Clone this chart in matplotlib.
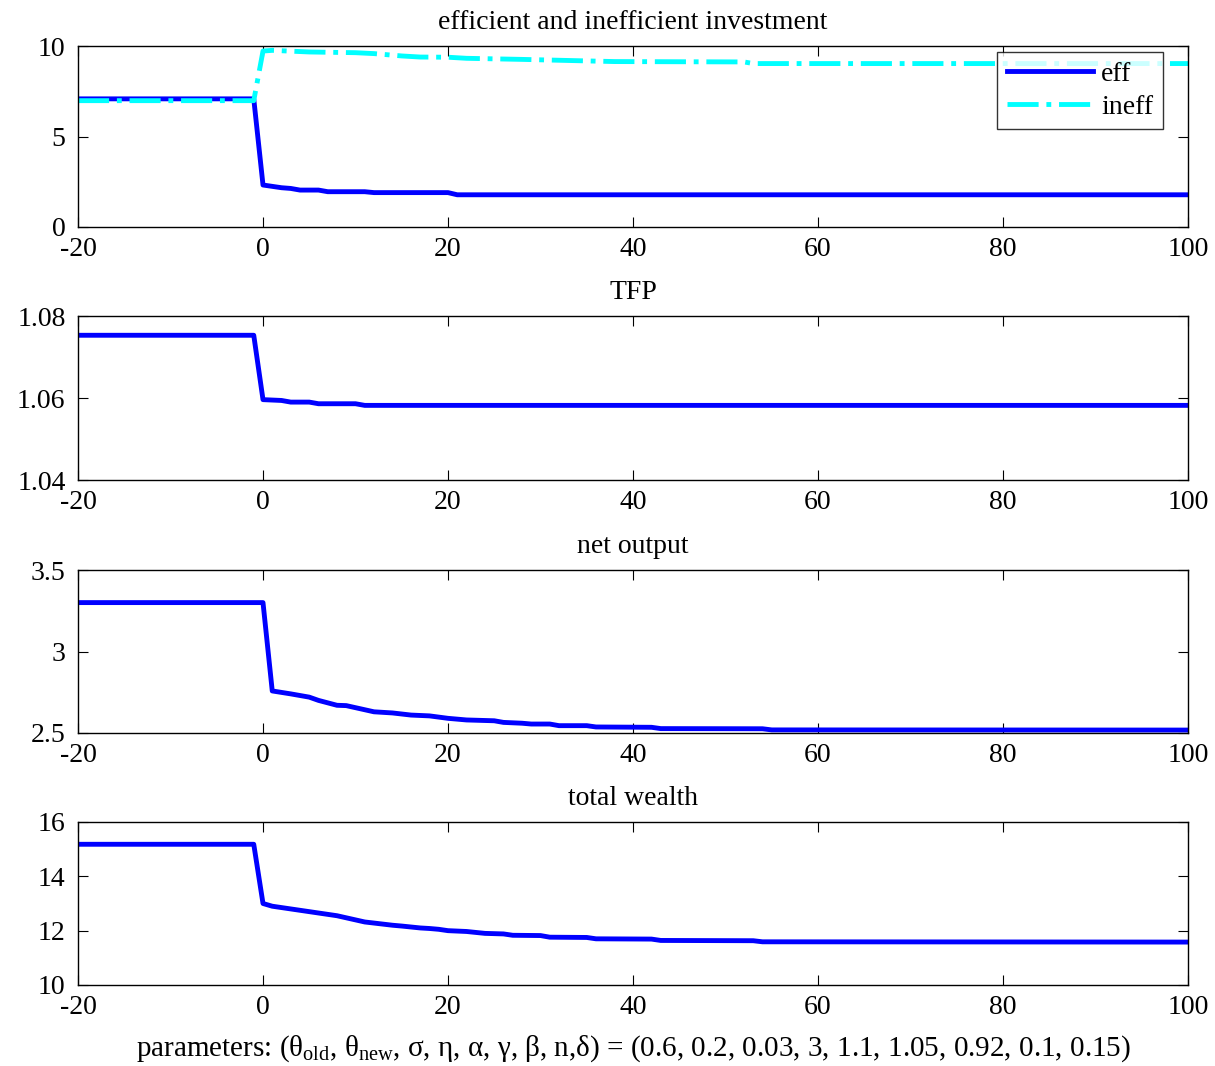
import numpy as np
import matplotlib
matplotlib.use("Agg")
import matplotlib.pyplot as plt

plt.rcParams['font.family'] = ['Liberation Serif', 'DejaVu Serif']
plt.rcParams['mathtext.fontset'] = 'custom'
plt.rcParams['mathtext.rm'] = 'Liberation Serif'
plt.rcParams['mathtext.it'] = 'Liberation Serif'
plt.rcParams['axes.unicode_minus'] = False
plt.rcParams['font.size'] = 20

# efficient / inefficient investment (breakpoints of the piecewise paths)
t_eff = [-20, -1, 0, 2, 3, 4, 6, 7, 11, 12, 20, 21, 100]
eff = [7.08, 7.08, 2.32, 2.17, 2.13, 2.04, 2.04, 1.95, 1.95, 1.90, 1.90, 1.78, 1.78]

t_ineff = [-20, -1, 0, 1, 5, 10, 12, 15, 17, 20, 22, 28, 33, 38, 52, 53, 100]
ineff = [6.98, 6.98, 9.72, 9.76, 9.67, 9.63, 9.58, 9.45, 9.39, 9.38, 9.32,
         9.26, 9.20, 9.14, 9.12, 9.03, 9.03]

# TFP
t_tfp = [-20, -1, 0, 2, 3, 5, 6, 10, 11, 100]
tfp = [1.0753, 1.0753, 1.0596, 1.0594, 1.0590, 1.0590, 1.0586, 1.0586, 1.0582, 1.0582]

# net output
t_out = [-20, 0, 1, 3, 5, 6, 8, 9, 12, 14, 16, 18, 20, 22, 25, 26, 28, 29,
         31, 32, 35, 36, 42, 43, 54, 55, 100]
out = [3.30, 3.30, 2.758, 2.74, 2.72, 2.70, 2.67, 2.668, 2.63, 2.623, 2.61,
       2.605, 2.59, 2.58, 2.575, 2.565, 2.56, 2.555, 2.555, 2.545, 2.545,
       2.537, 2.535, 2.527, 2.526, 2.519, 2.518]

# total wealth
t_w = [-20, -1, 0, 1, 4, 8, 11, 12, 14, 15, 17, 18, 19, 20, 22, 24, 26, 27,
       30, 31, 35, 36, 42, 43, 53, 54, 100]
wealth = [15.18, 15.18, 13.0, 12.9, 12.75, 12.55, 12.32, 12.28, 12.2, 12.17,
          12.1, 12.08, 12.05, 12.0, 11.97, 11.9, 11.88, 11.83, 11.82, 11.76,
          11.75, 11.70, 11.69, 11.64, 11.63, 11.59, 11.58]

xticks = [-20, 0, 20, 40, 60, 80, 100]
blue = (0, 0, 1)
cyan = (0, 1, 1)

fig = plt.figure(figsize=(12.15, 10.66), dpi=100)
W = 1215.0
H = 1066.0
boxes = [(46, 227), (316, 480), (570, 733), (822, 985)]
axes = []
for top, bot in boxes:
    ax = fig.add_axes([78 / W, 1 - bot / H, 1110 / W, (bot - top) / H])
    axes.append(ax)

ax = axes[0]
ax.plot(t_eff, eff, color=blue, lw=3.5, label='eff')
ax.plot(t_ineff, ineff, color=cyan, lw=3.5, ls='-.', label='ineff')
ax.set_ylim(0, 10)
ax.set_yticks([0, 5, 10])
ax.set_title('efficient and inefficient investment', fontsize=20, pad=12)
leg = ax.legend(loc='upper right', bbox_to_anchor=(0.9775, 0.967),
                frameon=True, fancybox=False, fontsize=20,
                handlelength=3.1, borderaxespad=0.0, labelspacing=0.25,
                handletextpad=0.3, borderpad=0.35)
leg.get_frame().set_edgecolor('black')
leg.get_frame().set_linewidth(1.0)

ax = axes[1]
ax.plot(t_tfp, tfp, color=blue, lw=3.5)
ax.set_ylim(1.04, 1.08)
ax.set_yticks([1.04, 1.06, 1.08])
ax.set_yticklabels(['1.04', '1.06', '1.08'])
ax.set_title('TFP', fontsize=20, pad=12)

ax = axes[2]
ax.plot(t_out, out, color=blue, lw=3.5)
ax.set_ylim(2.5, 3.5)
ax.set_yticks([2.5, 3, 3.5])
ax.set_yticklabels(['2.5', '3', '3.5'])
ax.set_title('net output', fontsize=20, pad=12)

ax = axes[3]
ax.plot(t_w, wealth, color=blue, lw=3.5)
ax.set_ylim(10, 16)
ax.set_yticks([10, 12, 14, 16])
ax.set_title('total wealth', fontsize=20, pad=12)
ax.set_xlabel(r'parameters: ($\theta_{\rm old}$, $\theta_{\rm new}$, $\sigma$, $\eta$, $\alpha$, $\gamma$, $\beta$, n,$\delta$) = (0.6, 0.2, 0.03, 3, 1.1, 1.05, 0.92, 0.1, 0.15)',
              fontsize=21, labelpad=10)

for ax in axes:
    ax.set_xlim(-20, 100)
    ax.set_xticks(xticks)
    ax.tick_params(direction='in', top=True, right=True, length=7, width=0.8,
                   labelsize=20)
    ax.tick_params(axis='x', pad=7)
    ax.tick_params(axis='y', pad=9)
    for s in ax.spines.values():
        s.set_linewidth(1.0)

fig.savefig('out.png', dpi=100)
